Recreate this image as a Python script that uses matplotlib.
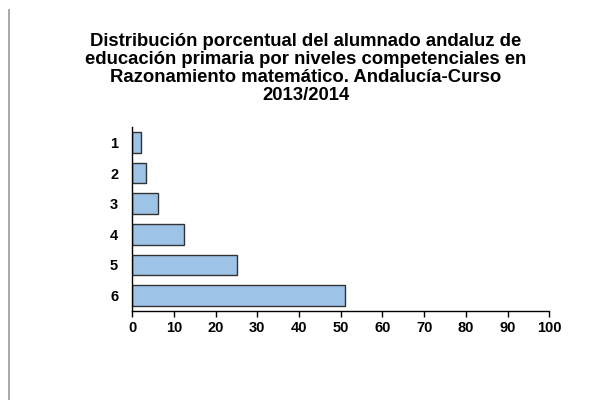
import matplotlib.pyplot as plt
from matplotlib.lines import Line2D

plt.rcParams.update({
    "font.family": ["Liberation Sans", "DejaVu Sans"],
    "font.weight": "bold",
    "font.size": 10.5,
})

niveles = ["1", "2", "3", "4", "5", "6"]
porcentajes = [2.2, 3.4, 6.3, 12.5, 25.1, 51.1]
xticks = list(range(0, 101, 10))

titulo = ("Distribución porcentual del alumnado andaluz de\n"
          "educación primaria por niveles competenciales en\n"
          "Razonamiento matemático. Andalucía-Curso\n"
          "2013/2014")

fig = plt.figure(figsize=(6.03, 4.0), dpi=100)
ax = fig.add_axes([0.219, 0.2225, 0.692, 0.46])

ax.barh(range(len(niveles)), porcentajes, height=0.67,
        color="#9DC3E6", edgecolor="#333333", linewidth=1.0)
ax.set_yticks(range(len(niveles)))
ax.set_yticklabels(niveles)
ax.set_ylim(5.5, -0.5)
ax.set_xlim(0, 100)
ax.set_xticks(xticks)

for side in ("top", "right"):
    ax.spines[side].set_visible(False)
ax.spines["left"].set_linewidth(1.0)
ax.spines["bottom"].set_linewidth(1.0)
ax.tick_params(axis="y", length=0, pad=10)
ax.tick_params(axis="x", length=4, width=1.0, direction="out")

fig.text(0.507, 0.917, titulo, ha="center", va="top", fontsize=13.3,
         fontweight="bold", linespacing=1.06)

# línea vertical gris a la izquierda
fig.add_artist(Line2D([8.5 / 603, 8.5 / 603], [0, 390 / 400],
                      color="#999999", linewidth=1.2))

fig.savefig("out.png", dpi=100)
